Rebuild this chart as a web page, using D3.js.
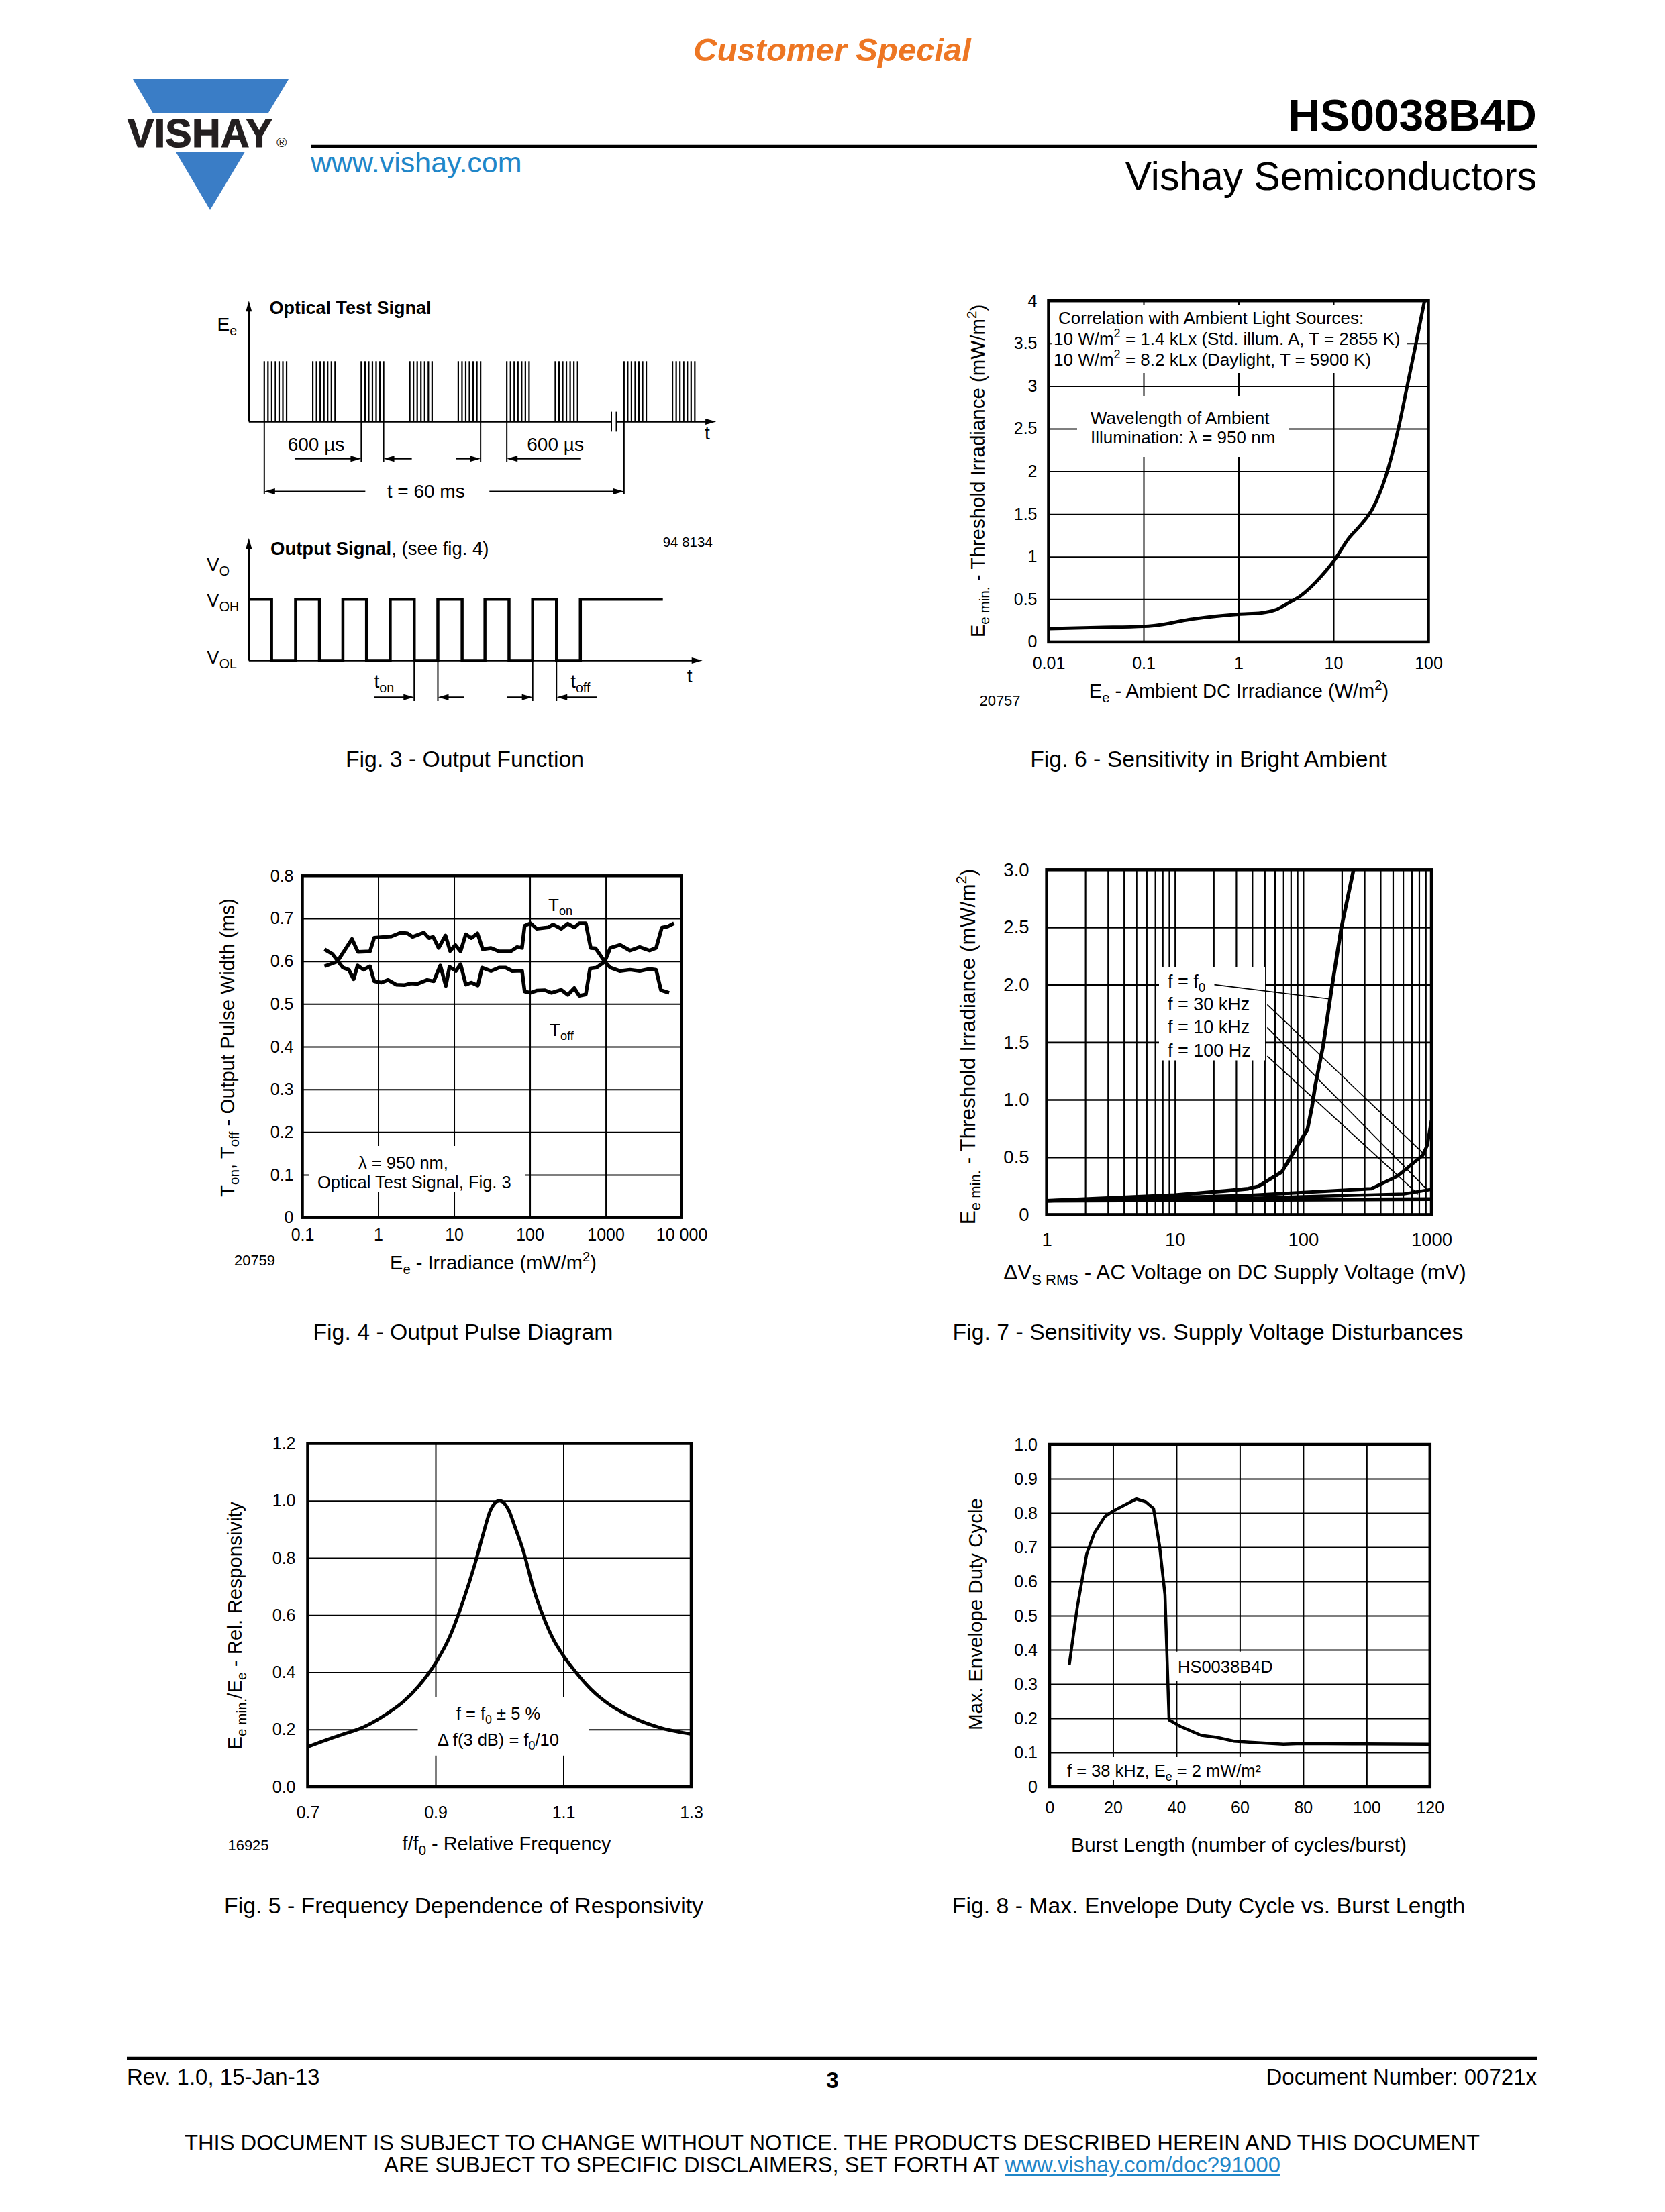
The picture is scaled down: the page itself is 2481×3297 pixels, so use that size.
<!DOCTYPE html>
<html>
<head>
<meta charset="utf-8">
<script src="https://d3js.org/d3.v7.min.js"></script>
<style>
body { margin: 0; background: #fff; }
svg text { font-family: "Liberation Sans", Arial, Helvetica, sans-serif; fill: #000; }
</style>
</head>
<body>
<div id="page"></div>
<script>
var FONT = '"Liberation Sans", Arial, Helvetica, sans-serif';

// fig 3 - optical test signal / output signal (time axis in µs, as drawn)
var burstStart = [0, 1200, 2400, 3600, 4800, 6000, 7200, 8900, 10100];
var pulseOffset = [0, 92, 184, 276, 368, 460, 552];
var outFall = [180, 1365, 2530, 3710, 4895, 6055, 7230];
var outRise = [775, 1945, 3115, 4295, 5460, 6640, 7820];

// fig 6 - sensitivity in bright ambient
var f6Irr = [0.01, 0.0325, 0.1, 0.129, 0.316, 1, 1.75, 2.43, 3.34, 4.47, 7.6, 10, 14.6, 19.3, 25.7, 35.5, 47.3, 60.3, 74, 91];
var f6Thr = [0.156, 0.17, 0.183, 0.192, 0.267, 0.326, 0.342, 0.375, 0.456, 0.538, 0.782, 0.945, 1.22, 1.37, 1.56, 1.94, 2.46, 3.02, 3.5, 4.0];
var f6XTicks = [0.01, 0.1, 1, 10, 100];
var f6XLabels = ["0.01", "0.1", "1", "10", "100"];
var f6YTicks = [0, 0.5, 1, 1.5, 2, 2.5, 3, 3.5, 4];
var f6YLabels = ["0", "0.5", "1", "1.5", "2", "2.5", "3", "3.5", "4"];

// fig 4 - output pulse diagram
var f4TonX = [0.196, 0.289, 0.452, 0.54, 0.78, 0.887, 1.49, 2.0, 2.44, 2.84, 4.01, 4.66, 5.3, 6.27, 7.72, 8.88, 10.4, 12.2, 14.3, 16.9, 20.4, 23.9, 30.7, 39.3, 55.7, 67.9, 78.8, 85.3, 102, 123, 174, 202, 259, 316, 386, 448, 546, 634, 735, 971, 1148, 1549, 2089, 2806, 3784, 4615, 5351, 6857];
var f4Ton = [0.588, 0.599, 0.652, 0.622, 0.623, 0.655, 0.658, 0.667, 0.665, 0.657, 0.667, 0.654, 0.657, 0.631, 0.660, 0.624, 0.638, 0.623, 0.663, 0.654, 0.665, 0.628, 0.631, 0.623, 0.623, 0.633, 0.631, 0.683, 0.689, 0.676, 0.679, 0.686, 0.676, 0.688, 0.679, 0.689, 0.689, 0.631, 0.630, 0.599, 0.585, 0.577, 0.580, 0.577, 0.582, 0.580, 0.532, 0.526];
var f4ToffX = [0.196, 0.249, 0.298, 0.342, 0.409, 0.475, 0.535, 0.64, 0.78, 0.887, 1.10, 1.35, 1.73, 2.21, 2.70, 3.29, 4.43, 5.41, 6.59, 7.8, 8.71, 10.6, 12.2, 14.3, 16.9, 20.6, 23.5, 30.7, 39.3, 48.0, 58.5, 78.8, 85.3, 102, 123, 158, 192, 259, 316, 386, 448, 546, 621, 757, 971, 1148, 1549, 2089, 2806, 3784, 4615, 5508, 6531, 7962];
var f4Toff = [0.628, 0.617, 0.599, 0.585, 0.580, 0.558, 0.590, 0.580, 0.588, 0.553, 0.550, 0.556, 0.545, 0.544, 0.548, 0.547, 0.556, 0.553, 0.590, 0.542, 0.587, 0.577, 0.593, 0.545, 0.550, 0.543, 0.585, 0.577, 0.585, 0.585, 0.577, 0.578, 0.529, 0.526, 0.531, 0.532, 0.526, 0.533, 0.521, 0.537, 0.519, 0.522, 0.583, 0.585, 0.599, 0.631, 0.638, 0.625, 0.633, 0.625, 0.631, 0.679, 0.681, 0.689];
var f4XTicks = [0.1, 1, 10, 100, 1000, 10000];
var f4XLabels = ["0.1", "1", "10", "100", "1000", "10 000"];
var f4YTicks = [0, 0.1, 0.2, 0.3, 0.4, 0.5, 0.6, 0.7, 0.8];
var f4YLabels = ["0", "0.1", "0.2", "0.3", "0.4", "0.5", "0.6", "0.7", "0.8"];

// fig 7 - sensitivity vs. supply voltage disturbances
var f7VF0 = [1, 3.2, 10, 24.7, 37.3, 44.7, 68.2, 108, 117, 124.5, 143, 168, 198, 247];
var f7EF0 = [0.12, 0.145, 0.17, 0.207, 0.226, 0.246, 0.372, 0.742, 0.936, 1.13, 1.467, 1.99, 2.49, 3.0];
var f7V30k = [1, 10, 37.3, 340, 540, 856, 928, 1000];
var f7E30k = [0.12, 0.15, 0.167, 0.226, 0.333, 0.517, 0.605, 0.82];
var f7V10k = [1, 37.3, 100, 610, 1000];
var f7E10k = [0.12, 0.142, 0.157, 0.18, 0.22];
var f7V100 = [1, 1000];
var f7E100 = [0.12, 0.135];
var f7Names = ["f = f", "f = 30 kHz", "f = 10 kHz", "f = 100 Hz"];
var f7Leaders = [[20.3, 2.0, 158, 1.877], [52.5, 1.827, 856, 0.537], [52.5, 1.628, 928, 0.216], [52.5, 1.379, 789, 0.177]];
var f7XTicks = [1, 10, 100, 1000];
var f7XLabels = ["1", "10", "100", "1000"];
var f7YTicks = [0, 0.5, 1, 1.5, 2, 2.5, 3];
var f7YLabels = ["0", "0.5", "1.0", "1.5", "2.0", "2.5", "3.0"];

// fig 5 - frequency dependence of responsivity
var f5Freq = [0.7, 0.728, 0.754, 0.786, 0.817, 0.849, 0.874, 0.9, 0.922, 0.943, 0.961, 0.975, 0.986, 1.0, 1.014, 1.024, 1.038, 1.053, 1.069, 1.085, 1.099, 1.116, 1.143, 1.174, 1.211, 1.253, 1.3];
var f5Resp = [0.139, 0.162, 0.182, 0.207, 0.245, 0.296, 0.353, 0.432, 0.523, 0.648, 0.774, 0.887, 0.967, 1.0, 0.969, 0.910, 0.819, 0.694, 0.592, 0.512, 0.461, 0.410, 0.341, 0.284, 0.239, 0.205, 0.184];
var f5XTicks = [0.7, 0.9, 1.1, 1.3];
var f5XLabels = ["0.7", "0.9", "1.1", "1.3"];
var f5YTicks = [0, 0.2, 0.4, 0.6, 0.8, 1.0, 1.2];
var f5YLabels = ["0.0", "0.2", "0.4", "0.6", "0.8", "1.0", "1.2"];

// fig 8 - max. envelope duty cycle vs. burst length
var f8Burst = [6.2, 8.7, 11.7, 14.1, 17.4, 20.1, 27.4, 30.4, 32.8, 34.7, 36.4, 37.7, 41.3, 47.8, 52.7, 58.1, 63, 73.8, 79.3, 95.5, 120];
var f8Duty = [0.356, 0.523, 0.68, 0.741, 0.789, 0.806, 0.841, 0.832, 0.813, 0.703, 0.561, 0.195, 0.176, 0.15, 0.144, 0.133, 0.13, 0.124, 0.126, 0.125, 0.124];
var f8XTicks = [0, 20, 40, 60, 80, 100, 120];
var f8XLabels = ["0", "20", "40", "60", "80", "100", "120"];
var f8YTicks = [0, 0.1, 0.2, 0.3, 0.4, 0.5, 0.6, 0.7, 0.8, 0.9, 1.0];
var f8YLabels = ["0", "0.1", "0.2", "0.3", "0.4", "0.5", "0.6", "0.7", "0.8", "0.9", "1.0"];

var W = 2481, H = 3297;
var svg = d3.select("#page").append("svg")
    .attr("width", W).attr("height", H)
    .attr("viewBox", "0 0 " + W + " " + H);
svg.append("rect").attr("width", W).attr("height", H).attr("fill", "#fff");

// text with sub/superscripts: parts = [[text, mode], ...]
function txt(g, x, y, parts, fs, anchor, rot) {
    var t = g.append("text").attr("font-size", fs).attr("text-anchor", anchor || "start");
    if (rot) t.attr("transform", "translate(" + x + "," + y + ") rotate(-90)");
    else t.attr("x", x).attr("y", y);
    if (typeof parts == "string") parts = [[parts]];
    var shift = 0;
    parts.forEach(function(p) {
        var mode = p[1] || "";
        var to = mode == "sub" ? 0.24 * fs : (mode == "sup" ? -0.42 * fs : 0);
        var s = t.append("tspan").text(p[0]).attr("dy", to - shift);
        shift = to;
        if (mode == "sub" || mode == "sup") s.attr("font-size", fs * 0.7);
        if (mode == "b") s.attr("font-weight", "bold");
    });
    return t;
}

function hline(g, x1, x2, y, sw) {
    g.append("line").attr("x1", x1).attr("x2", x2).attr("y1", y).attr("y2", y)
        .attr("stroke", "#000").attr("stroke-width", sw || 2);
}
function vline(g, x, y1, y2, sw) {
    g.append("line").attr("x1", x).attr("x2", x).attr("y1", y1).attr("y2", y2)
        .attr("stroke", "#000").attr("stroke-width", sw || 2);
}
// horizontal arrow, head at x2
function harrow(g, x1, x2, y, sw) {
    var d = x2 > x1 ? 1 : -1;
    hline(g, x1, x2 - d * 6, y, sw);
    g.append("path").attr("fill", "#000")
        .attr("d", "M" + x2 + "," + y + "L" + (x2 - d * 16) + "," + (y - 4.5) + "L" + (x2 - d * 16) + "," + (y + 4.5) + "Z");
}
function uparrow(g, x, y1, y2, sw) {
    vline(g, x, y1, y2 + 6, sw);
    g.append("path").attr("fill", "#000")
        .attr("d", "M" + x + "," + y2 + "L" + (x - 4.5) + "," + (y2 + 16) + "L" + (x + 4.5) + "," + (y2 + 16) + "Z");
}

// ---------- header ----------
var head = svg.append("g");
txt(head, 1240, 91, [["Customer Special"]], 49, "middle")
    .attr("font-weight", "bold").attr("font-style", "italic").style("fill", "#ED7623");
head.append("path").attr("fill", "#3A7DC6").attr("d", "M198,118L430,118L313,313Z");
head.append("rect").attr("x", 180).attr("y", 168.5).attr("width", 270).attr("height", 57.5).attr("fill", "#fff");
txt(head, 190, 218.5, "VISHAY", 59).attr("font-weight", "bold").attr("letter-spacing", 0.3)
    .style("fill", "#231F20").attr("stroke", "#231F20").attr("stroke-width", 1.2);
txt(head, 412, 218.5, "®", 21).style("fill", "#231F20");
txt(head, 2290, 195, "HS0038B4D", 66, "end").attr("font-weight", "bold");
hline(head, 463, 2290, 218, 4.5);
txt(head, 463, 257, "www.vishay.com", 43).style("fill", "#1F86C8");
txt(head, 2290, 283, "Vishay Semiconductors", 58.8, "end");

// ---------- fig 3 ----------
var g3 = svg.append("g");
var xT = d3.scaleLinear().domain([0, 10100]).range([393.8, 1002.1]);
var yU = d3.scaleLinear().domain([0, 1]).range([628.4, 538.3]);
var yL = d3.scaleLinear().domain([0, 1]).range([984.6, 893.3]);

burstStart.forEach(function(b) {
    pulseOffset.forEach(function(o) {
        vline(g3, xT(b + o), yU(0), yU(1), 2.2);
    });
});
uparrow(g3, xT(-382), yU(0), yU(2), 2.5);
harrow(g3, xT(-382), xT(11180), yU(0), 2.5);
g3.append("rect").attr("x", xT(8600)).attr("y", yU(0) - 4).attr("width", xT(8712) - xT(8600)).attr("height", 8).attr("fill", "#fff");
vline(g3, xT(8587), yU(0.164), yU(-0.166), 2);
vline(g3, xT(8712), yU(0.164), yU(-0.166), 2);

txt(g3, 401.5, 468, "Optical Test Signal", 27).attr("font-weight", "bold");
txt(g3, 323.6, 493, [["E"], ["e", "sub"]], 28);
txt(g3, xT(10960), 655, "t", 28, "middle");

// dimension lines, upper
vline(g3, xT(0), yU(0), 736, 2);
vline(g3, xT(8900), yU(0), 736, 2);
[2400, 2952, 5352, 6000].forEach(function(t) { vline(g3, xT(t), yU(0), 689, 2); });
harrow(g3, xT(750), xT(2400), 683.7, 2);
harrow(g3, xT(3650), xT(2952), 683.7, 2);
harrow(g3, xT(4750), xT(5352), 683.7, 2);
harrow(g3, xT(7820), xT(6000), 683.7, 2);
txt(g3, xT(580), 672, "600 µs", 28);
txt(g3, xT(6500), 672, "600 µs", 28);
harrow(g3, xT(2500), xT(0), 732.4, 2);
harrow(g3, xT(5570), xT(8900), 732.4, 2);
txt(g3, xT(4000), 742, "t = 60 ms", 28, "middle");

// output signal
var sq = [[-382, 1]];
outFall.forEach(function(f, i) {
    sq.push([f, 1], [f, 0], [outRise[i], 0], [outRise[i], 1]);
});
sq.push([9861, 1]);
g3.append("path").datum(sq)
    .attr("d", d3.line().x(function(d) { return xT(d[0]); }).y(function(d) { return yL(d[1]); }))
    .attr("fill", "none").attr("stroke", "#000").attr("stroke-width", 4.5).attr("stroke-linejoin", "miter");
uparrow(g3, xT(-382), yL(0), yL(2), 2.5);
harrow(g3, xT(-382), xT(10840), yL(0), 2.5);

txt(g3, 403, 827, [["Output Signal", "b"], [", (see fig. 4)"]], 27.5);
txt(g3, 987.7, 815, "94 8134", 20.5);
txt(g3, 308, 851, [["V"], ["O", "sub"]], 28);
txt(g3, 308, 904, [["V"], ["OH", "sub"]], 28);
txt(g3, 308, 989, [["V"], ["OL", "sub"]], 28);
txt(g3, xT(10525), 1017, "t", 28, "middle");

[outFall[3], outRise[3], outRise[5], outFall[6]].forEach(function(t) { vline(g3, xT(t), yL(0), 1045, 2); });
harrow(g3, xT(2718), xT(outFall[3]), 1039.3, 2);
harrow(g3, xT(4943), xT(outRise[3]), 1039.3, 2);
harrow(g3, xT(5997), xT(outRise[5]), 1039.3, 2);
harrow(g3, xT(8222), xT(outFall[6]), 1039.3, 2);
txt(g3, xT(2718), 1025, [["t"], ["on", "sub"]], 28);
txt(g3, xT(7577), 1025, [["t"], ["off", "sub"]], 28);

// ---------- generic chart frame ----------
function plot(c) {
    var g = svg.append("g");
    var x = (c.log ? d3.scaleLog() : d3.scaleLinear()).domain(c.xd).range([c.l, c.l + c.w]);
    var y = d3.scaleLinear().domain(c.yd).range([c.t + c.h, c.t]);

    g.append("g").attr("transform", "translate(0," + (c.t + c.h) + ")")
        .call(d3.axisBottom(x).tickValues(c.xg).tickSize(-c.h).tickFormat(""))
        .call(function(s) { s.select(".domain").remove(); })
        .selectAll("line").attr("stroke", "#000").attr("stroke-width", c.gx || 2);
    g.append("g").attr("transform", "translate(" + c.l + ",0)")
        .call(d3.axisLeft(y).tickValues(c.yg).tickSize(-c.w).tickFormat(""))
        .call(function(s) { s.select(".domain").remove(); })
        .selectAll("line").attr("stroke", "#000").attr("stroke-width", c.gy || 2);

    (c.boxes || []).forEach(function(b) {
        g.append("rect").attr("x", b[0]).attr("y", b[1]).attr("width", b[2] - b[0]).attr("height", b[3] - b[1]).attr("fill", "#fff");
    });

    g.append("rect").attr("x", c.l).attr("y", c.t).attr("width", c.w).attr("height", c.h)
        .attr("fill", "none").attr("stroke", "#000").attr("stroke-width", 4.5);

    g.append("g").attr("transform", "translate(0," + (c.t + c.h) + ")")
        .call(d3.axisBottom(x).tickValues(c.xt).tickSize(0).tickPadding(c.xp).tickFormat(function(d, i) { return c.xl[i]; }))
        .call(function(s) { s.select(".domain").remove(); })
        .attr("font-family", FONT).attr("font-size", c.fs);
    g.append("g").attr("transform", "translate(" + c.l + ",0)")
        .call(d3.axisLeft(y).tickValues(c.yt).tickSize(0).tickPadding(c.yp).tickFormat(function(d, i) { return c.yl[i]; }))
        .call(function(s) { s.select(".domain").remove(); })
        .attr("font-family", FONT).attr("font-size", c.fs);
    return { g: g, x: x, y: y };
}

function curve(p, xs, ys, sw, smooth) {
    var pts = xs.map(function(v, i) { return [v, ys[i]]; });
    p.g.append("path").datum(pts)
        .attr("d", d3.line().curve(smooth ? d3.curveMonotoneX : d3.curveLinear)
            .x(function(d) { return p.x(d[0]); }).y(function(d) { return p.y(d[1]); }))
        .attr("fill", "none").attr("stroke", "#000").attr("stroke-width", sw)
        .attr("stroke-linejoin", "round").attr("stroke-linecap", "butt");
}

var captions = svg.append("g");
function caption(x, y, s) { txt(captions, x, y, s, 33.8, "middle"); }

// ---------- fig 6 ----------
var p6 = plot({
    l: 1562.5, t: 448.2, w: 566, h: 508.7, log: true, xd: [0.01, 100], yd: [0, 4],
    xg: [0.1, 1, 10], yg: [0.5, 1, 1.5, 2, 2.5, 3, 3.5],
    xt: f6XTicks, xl: f6XLabels, yt: f6YTicks, yl: f6YLabels, fs: 25, xp: 22, yp: 17,
    boxes: [[1568, 455, 2097, 556], [1605, 590, 1920, 681]]
});
curve(p6, f6Irr, f6Thr, 5, true);
txt(p6.g, 1577, 483, "Correlation with Ambient Light Sources:", 26);
txt(p6.g, 1570, 514, [["10 W/m"], ["2", "sup"], [" = 1.4 kLx (Std. illum. A, T = 2855 K)"]], 26);
txt(p6.g, 1570, 545, [["10 W/m"], ["2", "sup"], [" = 8.2 kLx (Daylight, T = 5900 K)"]], 26);
txt(p6.g, 1625, 632, "Wavelength of Ambient", 26);
txt(p6.g, 1625, 661, "Illumination: λ = 950 nm", 26);
txt(p6.g, 1846, 1040, [["E"], ["e", "sub"], [" - Ambient DC Irradiance (W/m"], ["2", "sup"], [")"]], 29, "middle");
txt(p6.g, 1467, 702, [["E"], ["e min.", "sub"], [" - Threshold Irradiance (mW/m"], ["2", "sup"], [")"]], 29.5, "middle", true);
txt(p6.g, 1490, 1052, "20757", 22, "middle");

// ---------- fig 4 ----------
var p4 = plot({
    l: 450.5, t: 1305.3, w: 565.1, h: 509.4, log: true, xd: [0.1, 10000], yd: [0, 0.8],
    xg: [1, 10, 100, 1000], yg: [0.1, 0.2, 0.3, 0.4, 0.5, 0.6, 0.7],
    xt: f4XTicks, xl: f4XLabels, yt: f4YTicks, yl: f4YLabels, fs: 25, xp: 17, yp: 13,
    boxes: [[461, 1708, 783, 1776]]
});
curve(p4, f4TonX, f4Ton, 5.5, false);
curve(p4, f4ToffX, f4Toff, 5.5, false);
txt(p4.g, 817, 1358, [["T"], ["on", "sub"]], 26);
txt(p4.g, 819, 1544, [["T"], ["off", "sub"]], 26);
txt(p4.g, 534, 1742, "λ = 950 nm,", 25.5);
txt(p4.g, 473, 1771, "Optical Test Signal, Fig. 3", 25.5);
txt(p4.g, 735, 1892, [["E"], ["e", "sub"], [" - Irradiance (mW/m"], ["2", "sup"], [")"]], 29, "middle");
txt(p4.g, 349, 1561.6, [["T"], ["on", "sub"], [", T"], ["off", "sub"], ["  - Output Pulse Width (ms)"]], 29.5, "middle", true);
txt(p4.g, 379.5, 1886, "20759", 22, "middle");

// ---------- fig 7 ----------
var f7Grid = [];
[1, 10, 100].forEach(function(dec) {
    for (var k = 2; k <= 10; k++) f7Grid.push(dec * k);
});
var p7 = plot({
    l: 1559.6, t: 1296.3, w: 573.4, h: 514.1, log: true, xd: [1, 1000], yd: [0, 3],
    xg: f7Grid, yg: [0.5, 1, 1.5, 2, 2.5], gx: 2.2, gy: 2.6,
    xt: f7XTicks, xl: f7XLabels, yt: f7YTicks, yl: f7YLabels, fs: 27.5, xp: 27, yp: 26,
    boxes: [[1727, 1441.6, 1885, 1580.5]]
});
f7Leaders.forEach(function(l) {
    p7.g.append("line").attr("x1", p7.x(l[0])).attr("y1", p7.y(l[1]))
        .attr("x2", p7.x(l[2])).attr("y2", p7.y(l[3]))
        .attr("stroke", "#000").attr("stroke-width", 1.6);
});
curve(p7, f7V100, f7E100, 5.5, false);
curve(p7, f7V10k, f7E10k, 4.5, false);
curve(p7, f7V30k, f7E30k, 5, false);
curve(p7, f7VF0, f7EF0, 5.5, false);
txt(p7.g, 1740, 1472, [[f7Names[0]], ["0", "sub"]], 27);
txt(p7.g, 1740, 1506, f7Names[1], 27);
txt(p7.g, 1740, 1540, f7Names[2], 27);
txt(p7.g, 1740, 1575, f7Names[3], 27);
txt(p7.g, 1840, 1907, [["ΔV"], ["S RMS", "sub"], [" - AC Voltage on DC Supply Voltage (mV)"]], 31.5, "middle");
txt(p7.g, 1453, 1560, [["E"], ["e min.", "sub"], [" - Threshold Irradiance (mW/m"], ["2", "sup"], [")"]], 31.5, "middle", true);

// ---------- fig 5 ----------
var p5 = plot({
    l: 458.5, t: 2151.5, w: 571.5, h: 511.5, log: false, xd: [0.7, 1.3], yd: [0, 1.2],
    xg: [0.9, 1.1], yg: [0.2, 0.4, 0.6, 0.8, 1.0],
    xt: f5XTicks, xl: f5XLabels, yt: f5YTicks, yl: f5YLabels, fs: 25, xp: 29, yp: 18,
    boxes: [[622.5, 2529.6, 877.5, 2616.8]]
});
curve(p5, f5Freq, f5Resp, 5, true);
txt(p5.g, 742.5, 2563, [["f = f"], ["0", "sub"], [" ± 5 %"]], 25.5, "middle");
txt(p5.g, 742.5, 2602, [["Δ f(3 dB) = f"], ["0", "sub"], ["/10"]], 25.5, "middle");
txt(p5.g, 755, 2758, [["f/f"], ["0", "sub"], [" - Relative Frequency"]], 29, "middle");
txt(p5.g, 360, 2423, [["E"], ["e min.", "sub"], ["/E"], ["e", "sub"], [" - Rel. Responsivity"]], 29.5, "middle", true);
txt(p5.g, 370, 2758, "16925", 22, "middle");

// ---------- fig 8 ----------
var p8 = plot({
    l: 1564, t: 2153, w: 566.8, h: 510, log: false, xd: [0, 120], yd: [0, 1],
    xg: [20, 40, 60, 80, 100], yg: [0.1, 0.2, 0.3, 0.4, 0.5, 0.6, 0.7, 0.8, 0.9],
    xt: f8XTicks, xl: f8XLabels, yt: f8YTicks, yl: f8YLabels, fs: 25, xp: 22, yp: 18,
    boxes: [[1748.7, 2461.7, 1907.7, 2505.4], [1582, 2619, 1892, 2653]]
});
curve(p8, f8Burst, f8Duty, 4.5, false);
txt(p8.g, 1755, 2493, "HS0038B4D", 25.5);
txt(p8.g, 1590, 2648, [["f = 38 kHz, E"], ["e", "sub"], [" = 2 mW/m²"]], 25.5);
txt(p8.g, 1846, 2760, "Burst Length (number of cycles/burst)", 30, "middle");
txt(p8.g, 1464, 2406, "Max. Envelope Duty Cycle", 29.5, "middle", true);

// ---------- captions ----------
caption(692.5, 1143, "Fig. 3 - Output Function");
caption(1801, 1143, "Fig. 6 - Sensitivity in Bright Ambient");
caption(690, 1997, "Fig. 4 - Output Pulse Diagram");
caption(1800, 1997, "Fig. 7 - Sensitivity vs. Supply Voltage Disturbances");
caption(691, 2852, "Fig. 5 - Frequency Dependence of Responsivity");
caption(1801, 2852, "Fig. 8 - Max. Envelope Duty Cycle vs. Burst Length");

// ---------- footer ----------
var foot = svg.append("g");
hline(foot, 189, 2290, 3068, 4.5);
txt(foot, 189, 3107, "Rev. 1.0, 15-Jan-13", 33);
txt(foot, 1240.5, 3112, "3", 33, "middle").attr("font-weight", "bold");
txt(foot, 2290, 3107, "Document Number: 00721x", 33, "end");
txt(foot, 1240, 3205, "THIS DOCUMENT IS SUBJECT TO CHANGE WITHOUT NOTICE. THE PRODUCTS DESCRIBED HEREIN AND THIS DOCUMENT", 32.7, "middle");
var disc = txt(foot, 1240, 3238, "ARE SUBJECT TO SPECIFIC DISCLAIMERS, SET FORTH AT ", 32.7, "middle");
disc.append("tspan").text("www.vishay.com/doc?91000").style("fill", "#1F86C8").attr("text-decoration", "underline");
</script>
</body>
</html>
